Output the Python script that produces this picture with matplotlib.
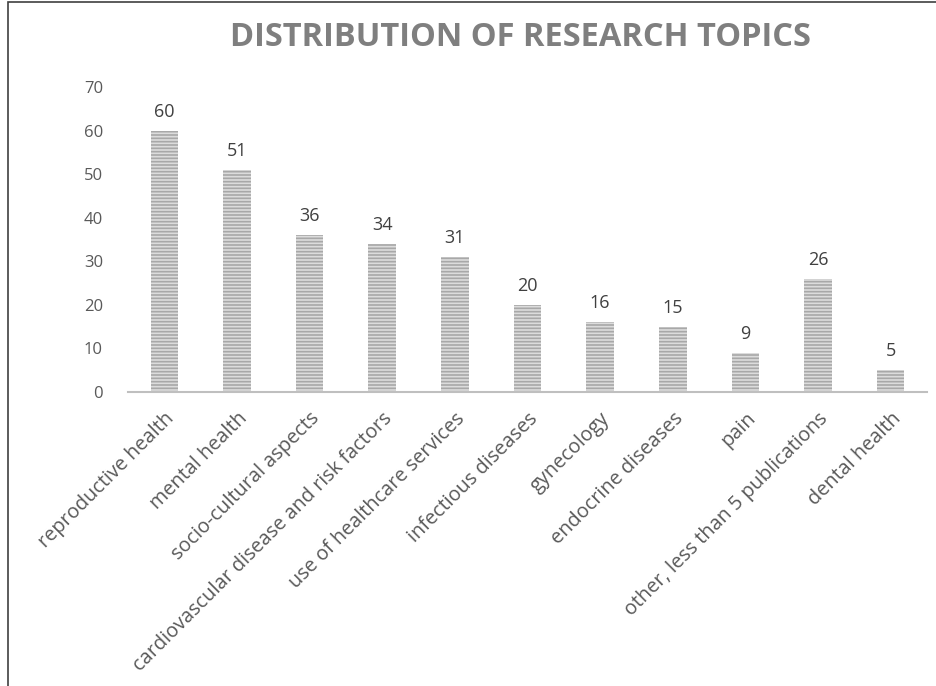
import matplotlib
matplotlib.use("Agg")
import matplotlib.pyplot as plt
from matplotlib.patches import Rectangle

topics = ["reproductive health", "mental health", "socio-cultural aspects",
          "cardiovascular disease and risk factors", "use of healthcare services",
          "infectious diseases", "gynecology", "endocrine diseases", "pain",
          "other, less than 5 publications", "dental health"]
counts = [60, 51, 36, 34, 31, 20, 16, 15, 9, 26, 5]
y_ticks = [0, 10, 20, 30, 40, 50, 60, 70]

plt.rcParams['font.family'] = ['Open Sans', 'DejaVu Sans']
plt.rcParams['hatch.linewidth'] = 1.2

fig = plt.figure(figsize=(9.37, 6.86), dpi=100)
ax = fig.add_axes([128 / 937, 1 - 392 / 686, 799 / 937, 305 / 686])

x = list(range(len(topics)))
bars = ax.bar(x, counts, width=0.38, color='#dcdcdc', edgecolor='#a8a8a8',
              linewidth=0, hatch='-----')
for xi, v in zip(x, counts):
    ax.text(xi, v + 2.3, str(v), ha='center', va='bottom', fontsize=13, color='#404040')

ax.set_xlim(-0.5, len(topics) - 0.5)
ax.set_ylim(0, 70)
ax.set_yticks(y_ticks)
ax.set_yticklabels([str(t) for t in y_ticks], fontsize=12, color='#595959')
ax.set_xticks(x)
ax.set_xticklabels(topics, rotation=45, ha='right', rotation_mode='anchor',
                   fontsize=14.3, color='#595959')
ax.tick_params(axis='y', length=0, pad=18)
ax.tick_params(axis='x', length=0, pad=12)
for s in ['top', 'right', 'left']:
    ax.spines[s].set_visible(False)
ax.spines['bottom'].set_color('#bfbfbf')
ax.spines['bottom'].set_linewidth(1.5)

fig.text(0.555, 1 - 37 / 686, "DISTRIBUTION OF RESEARCH TOPICS", ha='center', va='center',
         fontsize=23.5, fontweight='bold', color='#7f7f7f')

fig.patches.append(Rectangle((8 / 937, -0.1), 1.2, 1.1 - 2 / 686, transform=fig.transFigure,
                             fill=False, edgecolor='#404040', linewidth=1.2))

fig.savefig("out.png", dpi=100)
